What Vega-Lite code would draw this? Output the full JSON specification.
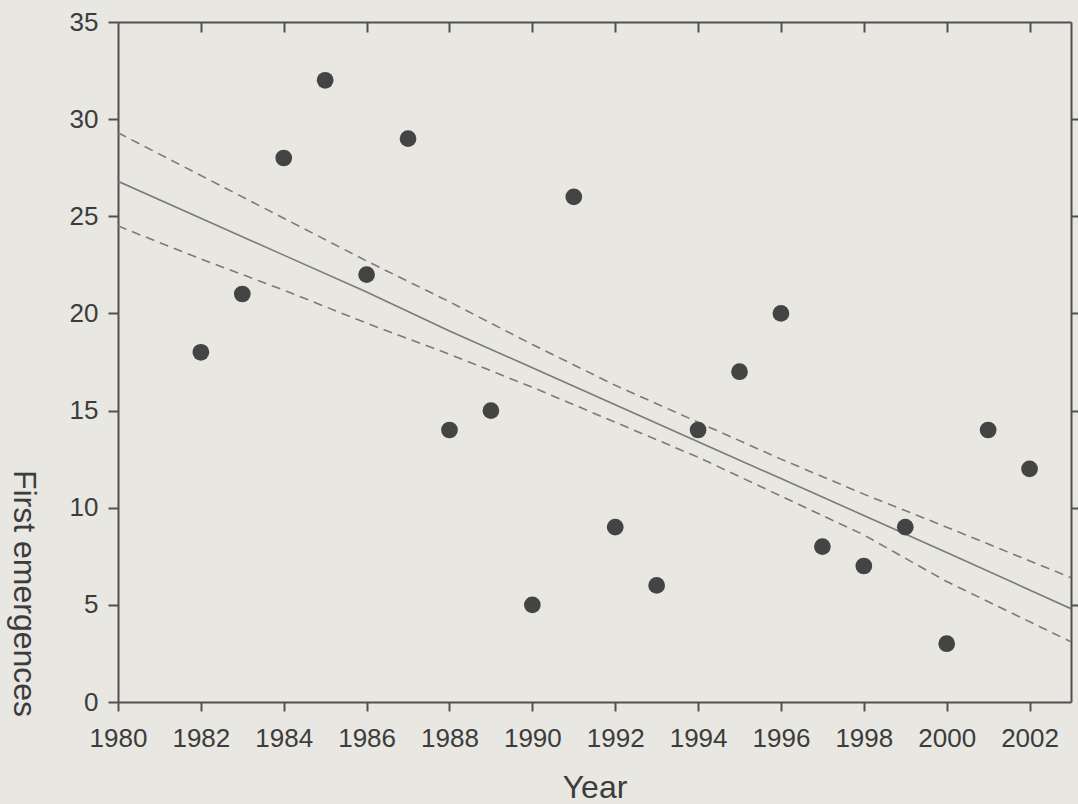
{
  "$schema": "https://vega.github.io/schema/vega-lite/v6.json",
  "width": 953,
  "height": 680,
  "autosize": {"type": "none"},
  "padding": {"left": 118, "top": 22, "right": 7, "bottom": 102},
  "background": "#e8e7e1",
  "config": {
    "view": {"stroke": null},
    "font": "Liberation Sans",
    "axis": {
      "grid": false,
      "domainColor": "#505050",
      "domainWidth": 2,
      "tickColor": "#505050",
      "tickWidth": 2,
      "tickSize": 10,
      "labelFont": "Liberation Sans",
      "labelFontSize": 26,
      "labelColor": "#3c3c3c",
      "labelOverlap": false,
      "labelFlush": false,
      "labelBound": false,
      "titleFont": "Liberation Sans",
      "titleFontSize": 32,
      "titleFontWeight": "normal",
      "titleColor": "#3c3c3c"
    }
  },
  "datasets": {
    "points": [
      {"year": 1982, "emergences": 18},
      {"year": 1983, "emergences": 21},
      {"year": 1984, "emergences": 28},
      {"year": 1985, "emergences": 32},
      {"year": 1986, "emergences": 22},
      {"year": 1987, "emergences": 29},
      {"year": 1988, "emergences": 14},
      {"year": 1989, "emergences": 15},
      {"year": 1990, "emergences": 5},
      {"year": 1991, "emergences": 26},
      {"year": 1992, "emergences": 9},
      {"year": 1993, "emergences": 6},
      {"year": 1994, "emergences": 14},
      {"year": 1995, "emergences": 17},
      {"year": 1996, "emergences": 20},
      {"year": 1997, "emergences": 8},
      {"year": 1998, "emergences": 7},
      {"year": 1999, "emergences": 9},
      {"year": 2000, "emergences": 3},
      {"year": 2001, "emergences": 14},
      {"year": 2002, "emergences": 12}
    ],
    "fit": [
      {"year": 1980, "fit": 26.8, "upper": 29.3, "lower": 24.5},
      {"year": 1982, "fit": 24.9, "upper": 27.1, "lower": 22.8},
      {"year": 1984, "fit": 23.0, "upper": 24.9, "lower": 21.2},
      {"year": 1986, "fit": 21.1, "upper": 22.7, "lower": 19.5},
      {"year": 1988, "fit": 19.1, "upper": 20.6, "lower": 17.9},
      {"year": 1990, "fit": 17.2, "upper": 18.4, "lower": 16.2},
      {"year": 1992, "fit": 15.3, "upper": 16.3, "lower": 14.4},
      {"year": 1994, "fit": 13.4, "upper": 14.4, "lower": 12.6},
      {"year": 1996, "fit": 11.5, "upper": 12.5, "lower": 10.6},
      {"year": 1998, "fit": 9.6, "upper": 10.7, "lower": 8.6},
      {"year": 2000, "fit": 7.7, "upper": 9.0, "lower": 6.2},
      {"year": 2003, "fit": 4.8, "upper": 6.4, "lower": 3.1}
    ]
  },
  "layer": [
    {
      "data": {"name": "fit"},
      "mark": {"type": "line", "color": "#7a7a7a", "strokeWidth": 1.6, "strokeDash": [9, 6], "clip": true},
      "encoding": {
        "x": {"field": "year", "type": "quantitative", "scale": {"domain": [1980, 2003], "nice": false, "zero": false},
          "axis": {"orient": "top", "title": null, "labels": false, "values": [1982, 1984, 1986, 1988, 1990, 1992, 1994, 1996, 1998, 2000, 2002], "tickSize": -10}},
        "y": {"field": "upper", "type": "quantitative", "scale": {"domain": [0, 35], "nice": false},
          "axis": {"orient": "right", "title": null, "labels": false, "values": [5, 10, 15, 20, 25, 30]}}
      }
    },
    {
      "data": {"name": "fit"},
      "mark": {"type": "line", "color": "#7a7a7a", "strokeWidth": 1.6, "strokeDash": [9, 6], "clip": true},
      "encoding": {
        "x": {"field": "year", "type": "quantitative", "axis": null},
        "y": {"field": "lower", "type": "quantitative", "axis": null}
      }
    },
    {
      "data": {"name": "fit"},
      "mark": {"type": "line", "color": "#7a7a7a", "strokeWidth": 1.6, "clip": true},
      "encoding": {
        "x": {"field": "year", "type": "quantitative", "axis": null},
        "y": {"field": "fit", "type": "quantitative", "axis": null}
      }
    },
    {
      "data": {"name": "points"},
      "mark": {"type": "circle", "size": 280, "color": "#444444", "opacity": 1},
      "encoding": {
        "x": {"field": "year", "type": "quantitative",
          "axis": {"orient": "bottom", "title": "Year", "values": [1980, 1982, 1984, 1986, 1988, 1990, 1992, 1994, 1996, 1998, 2000, 2002], "format": "d", "labelPadding": 14, "tickSize": 9, "titleY": 95, "titleBaseline": "alphabetic"}},
        "y": {"field": "emergences", "type": "quantitative",
          "axis": {"orient": "left", "title": "First emergences", "values": [0, 5, 10, 15, 20, 25, 30, 35], "labelPadding": 10, "titleAngle": 90, "titleX": -105, "titleY": 571, "titleAlign": "center", "titleBaseline": "alphabetic"}}
      }
    }
  ],
  "resolve": {"axis": {"x": "independent", "y": "independent"}}
}
